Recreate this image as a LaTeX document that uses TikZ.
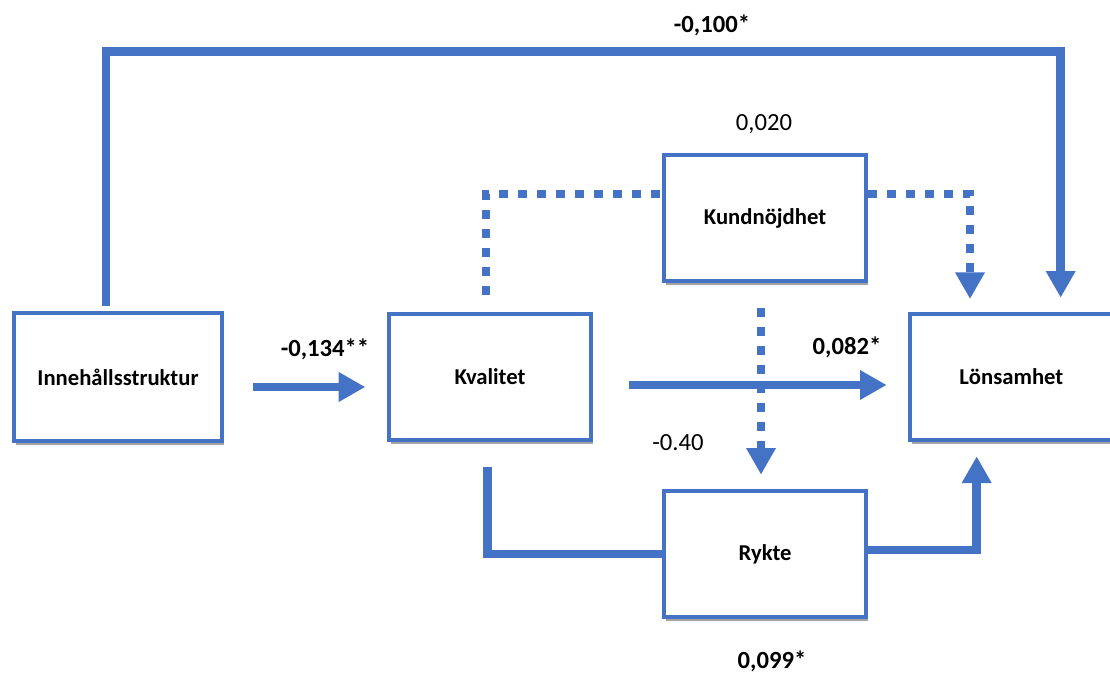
\documentclass[tikz,border=0pt]{standalone}
\usepackage{fontspec}
\setmainfont{Carlito}
\usetikzlibrary{positioning,arrows.meta,shadows}
\definecolor{linkblue}{RGB}{68,114,196}

\begin{document}
\begin{tikzpicture}[
  x=0.75pt, y=-0.75pt,
  font=\fontsize{17}{20}\selectfont\bfseries,
  box/.style={draw=linkblue, line width=3pt, fill=white,
    minimum width=152pt, minimum height=94pt, inner sep=2pt, align=center,
    drop shadow={shadow xshift=1.5pt, shadow yshift=-3pt, opacity=0.6,
      fill=black!60}},
  lbl/.style={font=\fontsize{18.5}{22}\selectfont\bfseries, inner sep=1pt},
  plainlbl/.style={font=\fontsize{18.5}{22}\selectfont, inner sep=1pt},
  link/.style={draw=linkblue, line width=6.5pt},
  arr/.style={link, -{Triangle[length=20pt, width=21pt]}},
  dots/.style={dash pattern=on 6.75pt off 7.5pt},
]
\useasboundingbox (0,0) rectangle (1110,675);

% the five variables
\node[box, minimum width=156pt, minimum height=96pt] (inn) at (118,377)
  {Innehållsstruktur};
\node[box, right=122pt of inn] (kval) {Kvalitet};
\node[box, right=236pt of kval] (lon) {Lönsamhet};
\node[box] (kund) at (765,218) {Kundnöjdhet};
\node[box] (rykte) at (765,554) {Rykte};

% direct effect over the top
\draw[arr] ([xshift=-9pt, yshift=4pt]inn.north) -- ++(0,-254)
  -| ([xshift=37pt, yshift=11pt]lon.north);
\draw[arr, shorten <=22pt, shorten >=16pt]
  ([yshift=-7.5pt]inn.east) -- ([yshift=-7.5pt]kval.west);
\draw[arr, shorten <=27pt, shorten >=16pt]
  ([yshift=-6pt]kval.east) -- ([yshift=-6pt]lon.west);

% via Rykte
\draw[link] ([xshift=-2pt, yshift=-19pt]kval.south) |- (rykte.west);
\draw[arr] ([yshift=3pt]rykte.east) -| ([xshift=-26pt, yshift=-11pt]lon.south);

% via Kundnöjdhet (dotted)
\draw[link, dots] ([xshift=-3pt, yshift=13pt]kval.north) |- ([yshift=18pt]kund.west);
\draw[arr, dots] ([yshift=18pt]kund.east) -| ([xshift=-31pt, yshift=10pt]lon.north);
\draw[arr, dots, shorten <=19pt, shorten >=11pt]
  ([xshift=-3pt]kund.south) -- ([xshift=-3pt]rykte.north);

% coefficients
\node[lbl] (c100) at (712,25) {-0,100*};
\node[plainlbl] (c020) at (764,124) {0,020};
\node[lbl] (c134) at (325,349) {-0,134**};
\node[lbl] (c082) at (847,347) {0,082*};
\node[plainlbl] (c040) at (678,443) {-0.40};
\node[lbl] (c099) at (772,661) {0,099*};
\end{tikzpicture}
\end{document}
